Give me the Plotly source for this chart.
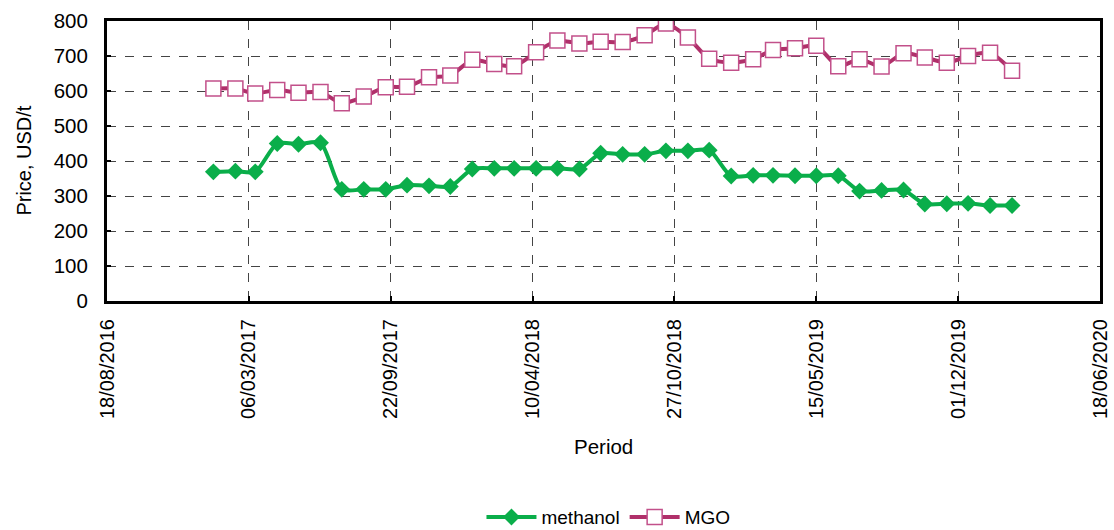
import plotly.graph_objects as go

dates = [
    "2017-01-15", "2017-02-15", "2017-03-15", "2017-04-15", "2017-05-15", "2017-06-15",
    "2017-07-15", "2017-08-15", "2017-09-15", "2017-10-15", "2017-11-15", "2017-12-15",
    "2018-01-15", "2018-02-15", "2018-03-15", "2018-04-15", "2018-05-15", "2018-06-15",
    "2018-07-15", "2018-08-15", "2018-09-15", "2018-10-15", "2018-11-15", "2018-12-15",
    "2019-01-15", "2019-02-15", "2019-03-15", "2019-04-15", "2019-05-15", "2019-06-15",
    "2019-07-15", "2019-08-15", "2019-09-15", "2019-10-15", "2019-11-15", "2019-12-15",
    "2020-01-15", "2020-02-15",
]

methanol = [
    369, 371, 369, 450, 448, 452, 319, 319, 319, 331, 329, 327, 377, 379,
    379, 379, 379, 377, 422, 419, 419, 429, 429, 431, 357, 359, 359, 358,
    358, 358, 314, 316, 317, 277, 278, 279, 273, 273,
]

mgo = [
    607, 607, 593, 603, 595, 597, 565, 584, 611, 612, 639, 644, 689, 677,
    671, 711, 744, 736, 741, 740, 759, 793, 753, 692, 681, 691, 717, 722,
    729, 671, 691, 670, 708, 696, 681, 700, 709, 658,
]

x_start = "2016-08-18"
x_end = "2020-06-18"
x_tick_days = 200
y_ticks = [0, 100, 200, 300, 400, 500, 600, 700, 800]

FONT = "Liberation Sans, Arial, sans-serif"
GREEN = "#0aae4a"
MAROON = "#b0306a"

fig = go.Figure()
fig.add_trace(go.Scatter(
    x=dates, y=methanol, name="methanol", mode="lines+markers",
    line=dict(color=GREEN, width=4, shape="spline", smoothing=0.7),
    marker=dict(symbol="diamond", size=13, color=GREEN, line=dict(width=0)),
))
fig.add_trace(go.Scatter(
    x=dates, y=mgo, name="MGO", mode="lines+markers",
    line=dict(color=MAROON, width=4, shape="spline", smoothing=0.7),
    marker=dict(symbol="square", size=15, color="white",
                line=dict(color="#c2508a", width=1.5)),
))

fig.update_layout(
    width=1114, height=530,
    margin=dict(l=107, r=14, t=21, b=229, autoexpand=False),
    paper_bgcolor="white", plot_bgcolor="white",
    font=dict(family=FONT, size=20, color="black"),
    showlegend=True,
    legend=dict(orientation="h", x=0.505, xanchor="center", y=-0.772, yanchor="middle",
                font=dict(size=19), itemwidth=50, tracegroupgap=0),
    xaxis=dict(
        type="date", range=[x_start, x_end], automargin=False,
        tick0=x_start, dtick=x_tick_days * 86400000, tickformat="%d/%m/%Y",
        tickangle=-90, ticks="inside", ticklen=5, tickwidth=2, tickcolor="black",
        showline=True, linewidth=3, linecolor="black", mirror=True,
        showgrid=True, gridcolor="#444444", gridwidth=1, griddash="dash",
        zeroline=False, ticklabelstandoff=7,
        tickfont=dict(size=20),
    ),
    yaxis=dict(
        range=[0, 800], tickvals=y_ticks, automargin=False,
        ticks="inside", ticklen=4, tickwidth=2, tickcolor="black",
        showline=True, linewidth=3, linecolor="black", mirror=True,
        showgrid=True, gridcolor="#444444", gridwidth=1, griddash="dash",
        zeroline=False, ticklabelstandoff=12,
        tickfont=dict(size=20.5),
    ),
    annotations=[
        dict(text="Price, USD/t", xref="paper", yref="paper", x=-0.084, y=0.5,
             xanchor="center", yanchor="middle", textangle=-90, showarrow=False,
             font=dict(size=20)),
        dict(text="Period", xref="paper", yref="paper", x=0.5, y=-0.52,
             xanchor="center", yanchor="middle", showarrow=False,
             font=dict(size=20.5)),
    ],
)

fig.write_html(
    "out.html",
    config={"displayModeBar": False},
    post_script="document.body.style.margin='0';document.body.style.overflow='hidden';",
)
